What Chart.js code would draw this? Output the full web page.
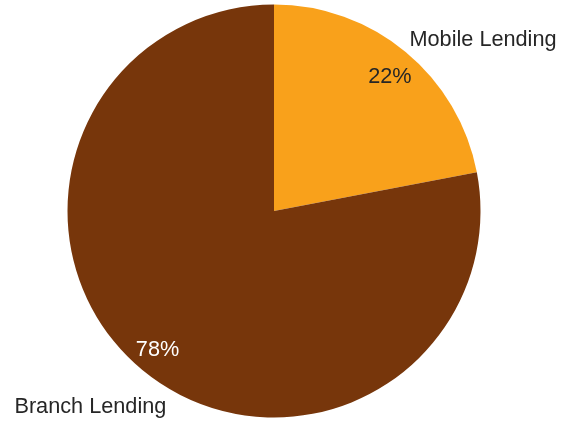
<!DOCTYPE html>
<html>
<head>
<meta charset="utf-8">
<script src="https://cdn.jsdelivr.net/npm/chart.js@4/dist/chart.umd.min.js"></script>
<style>
  html, body { margin: 0; padding: 0; background: #ffffff; }
  #wrap { width: 568px; height: 421px; }
</style>
</head>
<body>
<div id="wrap"><canvas id="c" width="568" height="421"></canvas></div>
<script>
const categories = ['Mobile Lending', 'Branch Lending'];
const shares = [22, 78];
const sliceColors = ['#F9A11B', '#77360B'];

// Label anchors in units of the pie radius, measured from the pie centre.
// name: left edge + baseline of the category name; pct: centre + baseline of the percentage.
const labelSpots = [
  { name: [0.656, -0.797], pct: [0.561, -0.621], pctColor: '#262626' },
  { name: [-1.257, 0.977], pct: [-0.564, 0.700], pctColor: '#ffffff' }
];

const labelPlugin = {
  id: 'sliceLabels',
  afterDatasetsDraw(chart) {
    const ctx = chart.ctx;
    const arcs = chart.getDatasetMeta(0).data;
    ctx.save();
    ctx.font = '21.7px "Liberation Sans", Arial, sans-serif';
    ctx.textBaseline = 'alphabetic';
    arcs.forEach((arc, i) => {
      const r = arc.outerRadius;
      const s = labelSpots[i];
      ctx.textAlign = 'center';
      ctx.fillStyle = s.pctColor;
      ctx.fillText(shares[i] + '%', arc.x + s.pct[0] * r, arc.y + s.pct[1] * r);
      ctx.textAlign = 'left';
      ctx.fillStyle = '#262626';
      ctx.fillText(categories[i], arc.x + s.name[0] * r, arc.y + s.name[1] * r);
    });
    ctx.restore();
  }
};

new Chart(document.getElementById('c'), {
  type: 'pie',
  data: {
    labels: categories,
    datasets: [{
      data: shares,
      backgroundColor: sliceColors,
      borderWidth: 0
    }]
  },
  options: {
    responsive: false,
    animation: false,
    layout: { padding: { left: 67.5, right: 87.5, top: 4.5, bottom: 3.5 } },
    plugins: {
      legend: { display: false },
      tooltip: { enabled: false }
    }
  },
  plugins: [labelPlugin]
});
</script>
</body>
</html>
